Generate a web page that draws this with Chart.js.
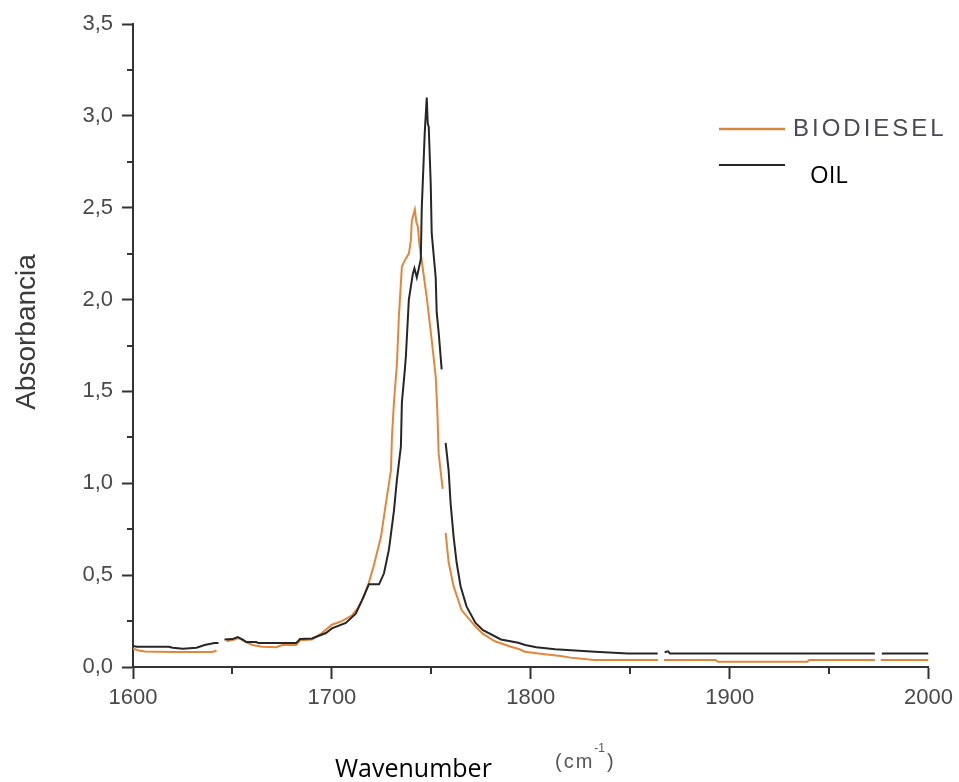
<!DOCTYPE html>
<html>
<head>
<meta charset="utf-8">
<script src="https://cdn.jsdelivr.net/npm/chart.js@4/dist/chart.umd.min.js"></script>
<style>
html,body{margin:0;padding:0;background:#fff;}
canvas{display:block;}
</style>
</head>
<body>
<canvas id="c" width="959" height="782"></canvas>
<script>
// Wavenumbers (cm-1) and absorbance values
const biodieselX = [1600,1603,1606,1620,1640,1642,1644,1647,1651,1653,1656,1660,1665,1672,1675,1682,1684,1690,1695,1700,1705,1710,1713,1716,1718.6,1721,1724.7,1727,1729.7,1730.2,1731.2,1732.7,1733.7,1734.7,1735.2,1737,1738.7,1739.7,1740.2,1741.7,1742.5,1743.2,1744,1745.2,1747.7,1750.2,1752.2,1753,1753.7,1755.7,1756.5,1757.2,1758.7,1761.2,1765.2,1772.2,1776,1782,1790,1794,1797,1806,1815,1820,1832,1864,1865.5,1867,1893,1894,1939,1940,1973,1974.5,1976,2000];
const biodieselY = [0.10,0.09,0.085,0.082,0.082,0.09,null,0.14,0.15,0.158,0.14,0.12,0.11,0.108,0.12,0.12,0.145,0.15,0.185,0.23,0.25,0.28,0.32,0.38,0.46,0.55,0.71,0.88,1.07,1.25,1.44,1.65,1.91,2.09,2.18,2.22,2.25,2.32,2.43,2.49,2.42,2.40,2.30,2.21,2.01,1.78,1.58,1.40,1.16,0.97,null,0.73,0.57,0.44,0.31,0.22,0.18,0.14,0.11,0.098,0.083,0.071,0.06,0.051,0.038,0.038,null,0.038,0.038,0.029,0.029,0.038,0.038,null,0.038,0.038];

const oilX = [1600,1602,1618,1620,1625,1632,1636,1641,1643,1644.5,1646,1650,1652.6,1655,1657,1662,1663,1682,1684,1690,1697,1700,1707,1712,1715,1718.6,1723.7,1726.2,1728.7,1731.2,1732.7,1734.7,1735.2,1736.7,1737.2,1738.7,1740.7,1741.5,1742.7,1744.7,1745.2,1746.7,1747.7,1748.2,1748.7,1749.7,1750.2,1752.2,1752.7,1753.7,1755.2,1756,1757.2,1758.7,1759.7,1761.2,1762.7,1764.7,1767.7,1772.2,1776,1785,1793.7,1797.2,1802.8,1812.3,1832.3,1848.8,1863.8,1865.5,1867.3,1869,1870,1973,1974.5,1976.5,2000];
const oilY = [0.115,0.11,0.11,0.105,0.10,0.105,0.12,0.13,0.13,null,0.15,0.152,0.163,0.15,0.136,0.136,0.13,0.13,0.152,0.155,0.185,0.21,0.24,0.29,0.36,0.45,0.45,0.51,0.64,0.85,1.02,1.20,1.44,1.62,1.69,2.00,2.14,2.17,2.12,2.22,2.50,2.91,3.10,2.96,2.94,2.63,2.36,2.12,1.93,1.82,1.62,null,1.22,1.07,0.89,0.71,0.57,0.44,0.33,0.24,0.20,0.15,0.132,0.12,0.107,0.096,0.083,0.074,0.074,null,0.08,0.085,0.074,0.074,null,0.074,0.074];

const seriesNames = ['BIODIESEL','OIL'];
const xTicks = [1600,1700,1800,1900,2000];
const yTicks = [0,0.5,1,1.5,2,2.5,3,3.5];

const ORANGE = '#e3863a';
const BLACK = '#262626';

function toPoints(xs, ys){ return xs.map((x,i)=>({x:x, y:ys[i]})); }

const minorTicks = {
  id:'minorTicks',
  afterDraw(chart){
    const ctx = chart.ctx, xs = chart.scales.x, ys = chart.scales.y;
    ctx.save();
    ctx.strokeStyle = '#333'; ctx.lineWidth = 2;
    for (let v = 0.25; v < 3.5; v += 0.5){
      const py = Math.round(ys.getPixelForValue(v));
      ctx.beginPath(); ctx.moveTo(xs.left-6, py); ctx.lineTo(xs.left, py); ctx.stroke();
    }
    for (let v = 1650; v < 2000; v += 100){
      const px = Math.round(xs.getPixelForValue(v));
      ctx.beginPath(); ctx.moveTo(px, ys.bottom); ctx.lineTo(px, ys.bottom+7); ctx.stroke();
    }
    ctx.restore();
  }
};

const texts = {
  id:'texts',
  afterDraw(chart){
    const ctx = chart.ctx;
    ctx.save();
    ctx.fillStyle = '#3a3a3a';
    ctx.font = '28px "Liberation Sans", Arial, sans-serif';
    ctx.textAlign = 'center'; ctx.textBaseline = 'middle';
    ctx.translate(27, 332); ctx.rotate(-Math.PI/2);
    ctx.fillText('Absorbancia', 0, 0);
    ctx.restore();

    ctx.save();
    ctx.fillStyle = '#000';
    ctx.font = '25px "Open Sans", sans-serif';
    ctx.textAlign = 'left'; ctx.textBaseline = 'alphabetic';
    ctx.fillText('Wavenumber', 335, 777);
    ctx.fillStyle = '#555';
    ctx.font = '20px "Liberation Sans", Arial, sans-serif';
    ctx.letterSpacing = '2px';
    ctx.fillText('(cm', 555, 768);
    let w = ctx.measureText('(cm').width;
    ctx.font = '12px "Liberation Sans", Arial, sans-serif';
    ctx.letterSpacing = '0px';
    ctx.fillText('-1', 555 + w, 752);
    let w2 = ctx.measureText('-1').width;
    ctx.font = '20px "Liberation Sans", Arial, sans-serif';
    ctx.fillText(')', 555 + w + w2 + 2, 768);

    ctx.lineWidth = 2.5;
    ctx.strokeStyle = '#d4883f';
    ctx.beginPath(); ctx.moveTo(719, 129); ctx.lineTo(785, 129); ctx.stroke();
    ctx.strokeStyle = BLACK; ctx.lineWidth = 2;
    ctx.beginPath(); ctx.moveTo(719, 165); ctx.lineTo(785, 165); ctx.stroke();
    ctx.textBaseline = 'middle';
    ctx.fillStyle = '#4a4a55';
    ctx.font = '24px "Liberation Sans", Arial, sans-serif';
    ctx.letterSpacing = '3px';
    ctx.fillText(seriesNames[0], 793, 129);
    ctx.letterSpacing = '0px';
    ctx.fillStyle = '#000';
    ctx.font = '24px "Open Sans", sans-serif';
    ctx.fillText(seriesNames[1], 810, 176);
    ctx.restore();
  }
};

new Chart(document.getElementById('c'), {
  type:'line',
  data:{
    datasets:[
      {label:seriesNames[0], data:toPoints(biodieselX, biodieselY), borderColor:ORANGE, borderWidth:2, pointRadius:0, tension:0, spanGaps:false, order:2, fill:false},
      {label:seriesNames[1], data:toPoints(oilX, oilY), borderColor:BLACK, borderWidth:2, pointRadius:0, tension:0, spanGaps:false, order:1, fill:false}
    ]
  },
  options:{
    responsive:false,
    animation:false,
    devicePixelRatio:1,
    layout:{padding:{top:24,right:25,left:0,bottom:0}},
    plugins:{legend:{display:false}, tooltip:{enabled:false}},
    scales:{
      x:{
        type:'linear', min:1600, max:2000,
        afterBuildTicks(s){ s.ticks = xTicks.map(v=>({value:v})); },
        afterFit(s){ s.height = 115; },
        ticks:{color:'#4a4a4a', font:{family:'"Liberation Sans", Arial, sans-serif', size:22}, padding:6, maxRotation:0, autoSkip:false,
               callback:v=>String(v)},
        grid:{drawOnChartArea:false, drawTicks:true, tickLength:12, tickColor:'#333', tickWidth:2},
        border:{display:true, color:'#333', width:2}
      },
      y:{
        type:'linear', min:0, max:3.5,
        afterBuildTicks(s){ s.ticks = yTicks.map(v=>({value:v})); },
        afterFit(s){ s.width = 133; },
        ticks:{color:'#4a4a4a', font:{family:'"Liberation Sans", Arial, sans-serif', size:22}, padding:9,
               callback:v=>v.toFixed(1).replace('.',',')},
        grid:{drawOnChartArea:false, drawTicks:true, tickLength:11, tickColor:'#333', tickWidth:2},
        border:{display:true, color:'#333', width:2}
      }
    }
  },
  plugins:[minorTicks, texts]
});
</script>
</body>
</html>
